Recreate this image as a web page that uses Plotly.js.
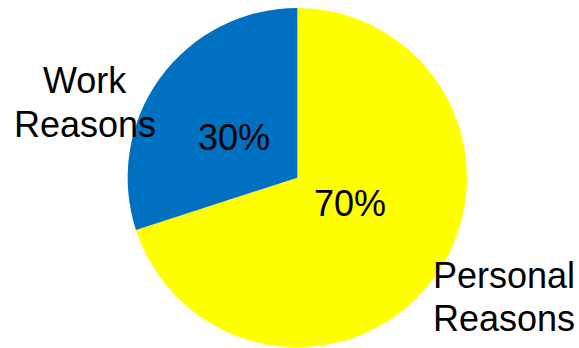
<!DOCTYPE html>
<html>
<head>
<meta charset="utf-8">
<script src="https://cdn.plot.ly/plotly-3.0.1.min.js"></script>
<style>html,body{margin:0;padding:0;background:#fff;}#chart{width:579px;height:348px;}</style>
</head>
<body>
<div id="chart"></div>
<script>
const categories = ["Personal Reasons", "Work Reasons"];
const values = [70, 30];
const colors = ["#FFFF00", "#0070C0"];

const total = values.reduce((a, b) => a + b, 0);
const pct = values.map(v => Math.round(v / total * 100) + "%");

const trace = {
  type: "pie",
  labels: categories,
  values: values,
  sort: false,
  direction: "clockwise",
  rotation: 0,
  marker: {colors: colors, line: {width: 0}},
  textinfo: "none",
  hoverinfo: "label+percent",
  domain: {x: [0.2199, 0.8071], y: [0.002, 0.977]},
  showlegend: false
};

const font = {family: "Liberation Sans, Arial, sans-serif", size: 36, color: "#000"};
function ann(text, px, py) {
  return {text: text, x: px / 579, y: 1 - py / 348, xref: "paper", yref: "paper",
          showarrow: false, font: font, xanchor: "center", yanchor: "middle"};
}
const workLines = categories[1].split(" ");
const persLines = categories[0].split(" ");
const layout = {
  width: 579, height: 348,
  margin: {l: 0, r: 0, t: 0, b: 0},
  paper_bgcolor: "#fff",
  showlegend: false,
  annotations: [
    ann(pct[1], 234, 137),
    ann(pct[0], 350, 203),
    ann(workLines[0], 85, 81),
    ann(workLines[1], 85, 124),
    ann(persLines[0], 504, 275),
    ann(persLines[1], 504, 318)
  ]
};

Plotly.newPlot("chart", [trace], layout, {displayModeBar: false, staticPlot: true});
</script>
</body>
</html>
